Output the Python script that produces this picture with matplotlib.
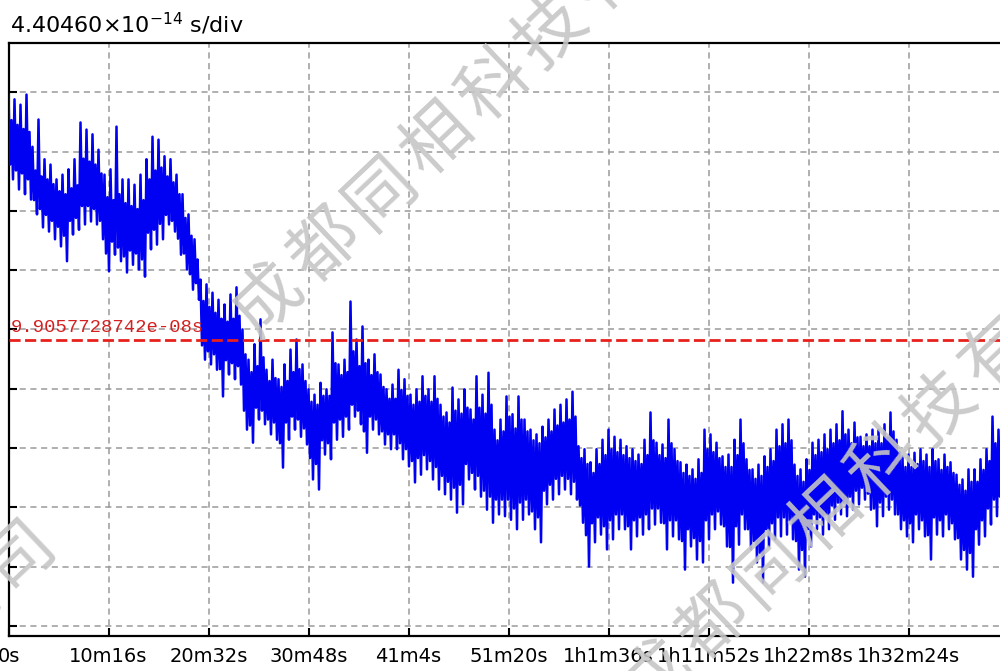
import numpy as np
import matplotlib
matplotlib.use("Agg")
import matplotlib.pyplot as plt
from matplotlib.ticker import MultipleLocator, FuncFormatter

# reference value (red line) and scale of the display
REF_S = 9.9057728742e-08
S_PER_DIV = 4.40460e-14
T_PER_DIV = 616          # 10m16s per division
SAMPLE_STEP_S = 9.24     # spacing of the read-off samples

# trace, in divisions from the red line.
# per step: spike top, dense band bottom, dense band top, spike bottom
upper_div = [
    4.13, 4.05, 3.96, 4.13, 3.25, 3.71, 3.04, 2.95, 2.70, 2.78,
    2.87, 3.04, 3.66, 3.54, 3.46, 3.20, 2.78, 2.87, 3.59, 2.70,
    2.70, 2.61, 2.78, 3.04, 3.42, 3.37, 3.09, 3.04, 2.78, 2.45,
    2.11, 1.69, 1.01, 0.93, 0.79, 0.67, 0.59, 0.76, 0.88, 0.17,
    -0.34, -0.08, 0.34, -0.51, -0.34, -0.67, -0.42, -0.17, 0.00, -0.42,
    -0.84, -0.93, -0.73, -0.84, 0.12, -0.42, -0.34, 0.64, 0.00, 0.22,
    -0.34, -0.25, -0.59, -0.84, -0.76, -0.51, -0.67, -0.93, -0.84, -0.62,
    -0.84, -0.62, -1.10, -1.23, -0.81, -1.01, -0.84, -1.18, -0.62, -0.93,
    -0.56, -1.52, -1.35, -0.96, -1.26, -0.96, -1.35, -1.52, -1.60, -1.47,
    -1.35, -1.18, -1.10, -1.01, -0.88, -1.80, -1.85, -2.07, -1.85, -1.69,
    -1.52, -1.64, -1.69, -1.80, -1.85, -1.94, -1.69, -1.23, -1.74, -1.77,
    -1.35, -1.85, -2.07, -2.11, -2.19, -2.02, -1.52, -1.60, -1.74, -1.97,
    -1.94, -1.69, -1.35, -2.02, -2.19, -2.11, -1.97, -1.85, -1.52, -1.43,
    -1.35, -2.11, -2.19, -2.02, -1.74, -1.69, -1.60, -1.52, -1.43, -1.21,
    -1.52, -1.40, -1.64, -1.60, -1.52, -1.52, -1.43, -1.23, -1.69, -1.97,
    -1.94, -1.91, -1.85, -1.94, -1.85, -2.02, -1.94, -2.07, -2.28, -2.36,
    -2.19, -2.19, -2.02, -1.85, -1.30, -1.52,
]
band_bot_div = [
    2.95, 2.85, 2.80, 2.70, 2.35, 2.20, 2.10, 2.00, 1.90, 1.75,
    2.00, 2.05, 2.25, 2.25, 2.20, 2.00, 1.45, 1.65, 1.55, 1.40,
    1.50, 1.45, 1.35, 1.80, 1.85, 1.95, 2.10, 2.00, 1.70, 1.45,
    1.10, 0.95, -0.10, -0.20, -0.25, -0.50, -0.35, -0.40, -0.45, -1.20,
    -1.45, -1.15, -1.20, -1.35, -1.40, -1.75, -1.40, -1.30, -1.35, -1.50,
    -2.00, -2.10, -1.70, -1.75, -1.40, -1.35, -1.30, -1.10, -1.20, -1.55,
    -1.30, -1.35, -1.55, -1.60, -1.60, -1.75, -1.85, -2.05, -2.00, -1.95,
    -2.05, -2.15, -2.30, -2.40, -2.50, -2.45, -2.10, -2.25, -2.30, -2.55,
    -2.65, -2.70, -2.70, -2.70, -2.85, -2.75, -2.70, -2.90, -3.00, -2.55,
    -2.45, -2.35, -2.30, -2.35, -2.40, -2.80, -3.30, -3.10, -3.00, -3.15,
    -3.05, -2.95, -2.95, -3.15, -3.05, -3.00, -2.95, -2.85, -2.85, -3.10,
    -3.05, -3.05, -3.40, -3.20, -3.35, -3.40, -3.05, -2.95, -2.90, -3.15,
    -3.50, -3.15, -2.95, -3.20, -3.40, -3.60, -3.20, -3.10, -3.00, -3.00,
    -3.05, -3.40, -3.55, -3.20, -2.95, -3.00, -2.95, -2.80, -2.75, -2.75,
    -2.65, -2.55, -2.50, -2.60, -2.85, -2.75, -2.65, -2.70, -2.95, -3.05,
    -3.10, -2.95, -3.05, -3.30, -3.00, -3.05, -2.95, -3.10, -3.35, -3.55,
    -3.60, -3.20, -3.05, -2.85, -2.70, -2.65,
]
band_top_div = [
    3.70, 3.62, 3.55, 3.50, 2.85, 2.75, 2.70, 2.62, 2.50, 2.45,
    2.55, 2.60, 3.05, 3.00, 2.95, 2.80, 2.40, 2.35, 2.45, 2.30,
    2.25, 2.20, 2.35, 2.70, 2.85, 2.90, 2.75, 2.65, 2.45, 2.05,
    1.75, 1.35, 0.65, 0.55, 0.45, 0.35, 0.30, 0.35, 0.40, -0.25,
    -0.55, -0.45, -0.30, -0.70, -0.65, -0.80, -0.70, -0.55, -0.50, -0.70,
    -1.05, -1.10, -0.95, -0.95, -0.40, -0.60, -0.55, -0.20, -0.45, -0.40,
    -0.60, -0.55, -0.80, -1.00, -1.00, -0.85, -0.95, -1.10, -1.05, -0.95,
    -1.05, -1.00, -1.30, -1.40, -1.20, -1.25, -1.15, -1.35, -1.15, -1.25,
    -1.10, -1.70, -1.55, -1.30, -1.50, -1.35, -1.55, -1.70, -1.75, -1.65,
    -1.55, -1.45, -1.40, -1.35, -1.30, -2.00, -2.10, -2.25, -2.10, -1.95,
    -1.85, -1.90, -1.95, -2.00, -2.05, -2.10, -1.95, -1.70, -1.95, -2.00,
    -1.75, -2.05, -2.25, -2.30, -2.35, -2.25, -1.85, -1.90, -2.00, -2.15,
    -2.15, -1.95, -1.75, -2.20, -2.35, -2.30, -2.15, -2.05, -1.80, -1.75,
    -1.70, -2.30, -2.40, -2.20, -1.95, -1.90, -1.85, -1.75, -1.70, -1.60,
    -1.75, -1.65, -1.80, -1.80, -1.75, -1.75, -1.65, -1.55, -1.90, -2.15,
    -2.15, -2.10, -2.05, -2.15, -2.05, -2.20, -2.15, -2.25, -2.45, -2.55,
    -2.40, -2.40, -2.20, -2.05, -1.75, -1.80,
]
lower_div = [
    2.70, 2.53, 2.45, 2.36, 2.11, 1.89, 1.82, 1.69, 1.57, 1.32,
    1.77, 1.85, 1.94, 1.99, 1.94, 1.69, 1.15, 1.43, 1.32, 1.13,
    1.26, 1.18, 1.06, 1.52, 1.60, 1.69, 1.94, 1.82, 1.43, 1.18,
    0.84, 0.67, -0.34, -0.42, -0.51, -0.96, -0.59, -0.67, -0.76, -1.52,
    -1.74, -1.35, -1.43, -1.60, -1.69, -2.16, -1.69, -1.52, -1.64, -1.77,
    -2.36, -2.53, -1.94, -2.02, -1.69, -1.64, -1.52, -1.30, -1.43, -1.91,
    -1.52, -1.60, -1.77, -1.85, -1.85, -2.02, -2.14, -2.41, -2.28, -2.19,
    -2.36, -2.53, -2.61, -2.70, -2.92, -2.78, -2.36, -2.53, -2.65, -2.87,
    -3.09, -2.95, -2.98, -3.04, -3.20, -3.04, -2.95, -3.20, -3.42, -2.78,
    -2.70, -2.61, -2.53, -2.61, -2.70, -3.09, -3.83, -3.42, -3.29, -3.54,
    -3.37, -3.20, -3.20, -3.54, -3.32, -3.29, -3.20, -3.12, -3.09, -3.54,
    -3.32, -3.37, -3.88, -3.49, -3.71, -3.76, -3.37, -3.20, -3.12, -3.49,
    -4.10, -3.46, -3.20, -3.54, -3.76, -4.10, -3.49, -3.37, -3.32, -3.29,
    -3.37, -3.88, -4.00, -3.49, -3.20, -3.29, -3.20, -3.04, -2.95, -2.98,
    -2.87, -2.78, -2.70, -2.87, -3.15, -2.98, -2.87, -2.95, -3.20, -3.32,
    -3.42, -3.20, -3.32, -3.71, -3.29, -3.32, -3.20, -3.37, -3.71, -3.88,
    -4.00, -3.46, -3.32, -3.12, -2.98, -2.95,
]

tick_times = [0, 616, 1232, 1848, 2464, 3080, 3696, 4312, 4928, 5544]
watermark = "成都同相科技有限公司"


def fmt_time(t, pos=None):
    t = int(round(t))
    h, rem = divmod(t, 3600)
    m, s = divmod(rem, 60)
    if h:
        return f"{h}h{m}m{s}s"
    if m:
        return f"{m}m{s}s"
    return f"{s}s"


# merge the readings into one trace
n = min(len(upper_div), len(band_bot_div), len(band_top_div), len(lower_div))
offsets = np.empty(4 * n)
offsets[0::4] = upper_div[:n]
offsets[1::4] = band_bot_div[:n]
offsets[2::4] = band_top_div[:n]
offsets[3::4] = lower_div[:n]
t = np.arange(4 * n) * SAMPLE_STEP_S
values = REF_S + offsets * S_PER_DIV

fig = plt.figure(figsize=(10, 6.71), dpi=100)
ax = fig.add_axes([0.0085, 35 / 671, 1.0, 593 / 671])

ax.plot(t, values, color="#0000f2", lw=1.8, zorder=3)
ax.axhline(REF_S, color="#e8201c", lw=2, ls=(0, (4, 1.6)), zorder=4)
ax.text(0.002, REF_S + 0.06 * S_PER_DIV, "9.9057728742e-08s", color="#d42020",
        fontsize=13.6, family="Liberation Mono", va="bottom", ha="left",
        transform=ax.get_yaxis_transform(), zorder=5)

ax.set_xlim(0, 10 * T_PER_DIV)
ax.set_ylim(REF_S - 5 * S_PER_DIV, REF_S + 5 * S_PER_DIV)
ax.set_xticks(tick_times)
ax.xaxis.set_major_formatter(FuncFormatter(fmt_time))
ax.yaxis.set_major_locator(MultipleLocator(S_PER_DIV))
ax.set_yticklabels([])
ax.tick_params(direction="in", length=6, width=1.5, color="black",
               labelsize=14, pad=8)
ax.grid(True, color="#9a9a9a", lw=1.1, ls=(0, (4, 3)))
for sp in ax.spines.values():
    sp.set_linewidth(1.6)

fig.text(0.010, 0.951, "4.40460×10$^{-14}$ s/div", fontsize=16, ha="left",
         va="baseline")

# diagonal watermark, one glyph at a time (wide letter spacing)
step_px = 78
ang = np.deg2rad(43.5)
for cx, cy in [(268, 300), (657, 677), (-489, 1038)]:
    for i, ch in enumerate(watermark):
        px = cx + i * step_px * np.cos(ang)
        py = cy - i * step_px * np.sin(ang)
        fig.text(px / 1000, 1 - py / 671, ch, fontsize=50, color="#c6c6c6",
                 alpha=0.9, family=["Noto Sans CJK SC", "DejaVu Sans"],
                 fontweight="medium", rotation=43.5, ha="center",
                 va="center", zorder=10)

fig.savefig("out.png", dpi=100)
